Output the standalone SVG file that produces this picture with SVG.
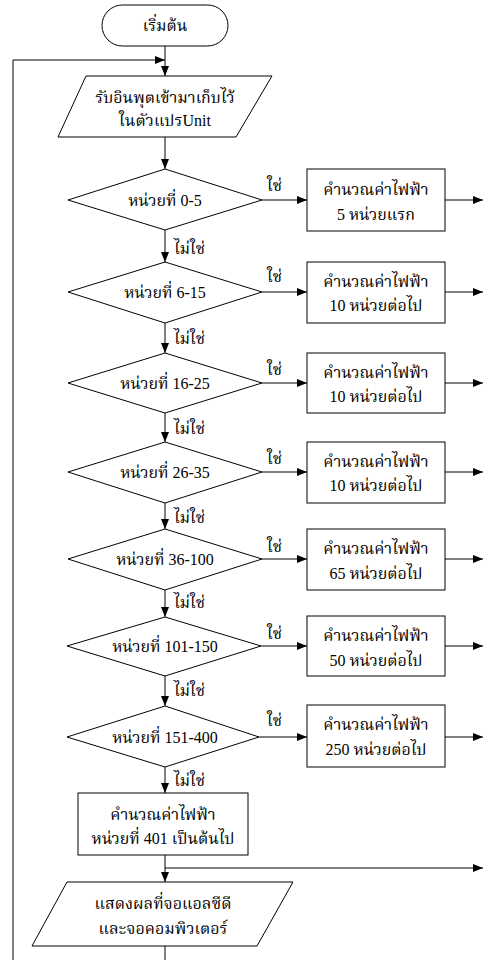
<svg xmlns="http://www.w3.org/2000/svg" width="483" height="960" viewBox="0 0 483 960">
<defs>
<marker id="ah" viewBox="0 0 10 8" refX="10" refY="4" markerWidth="10" markerHeight="8" markerUnits="userSpaceOnUse" orient="auto">
<path d="M0,0 L10,4 L0,8 Z" fill="#000"/>
</marker>
</defs>
<style>
.s{fill:#fff;stroke:#000;stroke-width:1}
.c{fill:none;stroke:#000;stroke-width:1}
.t{font-family:"Liberation Serif","Noto Serif Thai","Noto Sans Thai","DejaVu Sans",serif;font-size:16px;fill:#000;text-anchor:middle;dominant-baseline:central}
.l{font-family:"Liberation Serif","Noto Serif Thai","Noto Sans Thai","DejaVu Sans",serif;font-size:16px;fill:#000;dominant-baseline:central}
</style>
<rect width="483" height="960" fill="#fff"/>
<g id="connectors">
<line class="c" x1="165" y1="46" x2="165" y2="76" marker-end="url(#ah)"/>
<polyline class="c" points="165,960 165,946"/>
<polyline class="c" points="13,960 13,60 165,60" marker-end="url(#ah)"/>
<line class="c" x1="165" y1="137" x2="165" y2="169" marker-end="url(#ah)"/>
<line class="c" x1="165" y1="230" x2="165" y2="262" marker-end="url(#ah)"/>
<line class="c" x1="165" y1="323" x2="165" y2="353" marker-end="url(#ah)"/>
<line class="c" x1="165" y1="413" x2="165" y2="442" marker-end="url(#ah)"/>
<line class="c" x1="165" y1="503" x2="165" y2="529" marker-end="url(#ah)"/>
<line class="c" x1="165" y1="590" x2="165" y2="617" marker-end="url(#ah)"/>
<line class="c" x1="165" y1="676" x2="165" y2="706" marker-end="url(#ah)"/>
<line class="c" x1="165" y1="767" x2="165" y2="793" marker-end="url(#ah)"/>
<line class="c" x1="165" y1="855" x2="165" y2="882" marker-end="url(#ah)"/>
<line class="c" x1="165" y1="868" x2="483" y2="868" marker-end="url(#ah)"/>
<line class="c" x1="262" y1="200" x2="307" y2="200" marker-end="url(#ah)"/>
<line class="c" x1="262" y1="292" x2="307" y2="292" marker-end="url(#ah)"/>
<line class="c" x1="262" y1="383" x2="307" y2="383" marker-end="url(#ah)"/>
<line class="c" x1="262" y1="472" x2="307" y2="472" marker-end="url(#ah)"/>
<line class="c" x1="262" y1="559" x2="307" y2="559" marker-end="url(#ah)"/>
<line class="c" x1="261" y1="646" x2="307" y2="646" marker-end="url(#ah)"/>
<line class="c" x1="259" y1="737" x2="307" y2="737" marker-end="url(#ah)"/>
<line class="c" x1="445" y1="200" x2="483" y2="200" marker-end="url(#ah)"/>
<line class="c" x1="445" y1="292" x2="483" y2="292" marker-end="url(#ah)"/>
<line class="c" x1="445" y1="383" x2="483" y2="383" marker-end="url(#ah)"/>
<line class="c" x1="445" y1="472" x2="483" y2="472" marker-end="url(#ah)"/>
<line class="c" x1="445" y1="559" x2="483" y2="559" marker-end="url(#ah)"/>
<line class="c" x1="445" y1="646" x2="483" y2="646" marker-end="url(#ah)"/>
<line class="c" x1="445" y1="737" x2="483" y2="737" marker-end="url(#ah)"/>
<text class="l" x="267" y="185">ใช่</text>
<text class="l" x="267" y="276">ใช่</text>
<text class="l" x="267" y="369">ใช่</text>
<text class="l" x="267" y="458">ใช่</text>
<text class="l" x="267" y="546">ใช่</text>
<text class="l" x="267" y="633">ใช่</text>
<text class="l" x="267" y="720">ใช่</text>
<text class="l" x="174" y="248">ไม่ใช่</text>
<text class="l" x="174" y="338">ไม่ใช่</text>
<text class="l" x="174" y="428">ไม่ใช่</text>
<text class="l" x="174" y="517">ไม่ใช่</text>
<text class="l" x="174" y="602">ไม่ใช่</text>
<text class="l" x="174" y="690">ไม่ใช่</text>
<text class="l" x="174" y="780">ไม่ใช่</text>
</g>
<g id="start">
<rect class="s" x="102" y="5" width="126" height="41" rx="20.5"/>
<text class="t" x="165" y="25">เริ่มต้น</text>
</g>
<g id="input">
<polygon class="s" points="86,76 272,76 236,137 58,137"/>
<text class="t" x="165" y="97">รับอินพุตเข้ามาเก็บไว้</text>
<text class="t" x="165" y="120">ในตัวแปรUnit</text>
</g>
<g id="d1">
<polygon class="s" points="165,169 262,200 165,230 68,200"/>
<text class="t" x="165" y="200">หน่วยที่ 0-5</text>
</g>
<g id="d2">
<polygon class="s" points="165,262 262,292 165,323 68,292"/>
<text class="t" x="165" y="292">หน่วยที่ 6-15</text>
</g>
<g id="d3">
<polygon class="s" points="165,353 262,383 165,413 68,383"/>
<text class="t" x="165" y="383">หน่วยที่ 16-25</text>
</g>
<g id="d4">
<polygon class="s" points="165,442 262,472 165,503 68,472"/>
<text class="t" x="165" y="472">หน่วยที่ 26-35</text>
</g>
<g id="d5">
<polygon class="s" points="165,529 262,559 165,590 68,559"/>
<text class="t" x="165" y="559">หน่วยที่ 36-100</text>
</g>
<g id="d6">
<polygon class="s" points="165,617 261,646 165,676 67,646"/>
<text class="t" x="165" y="646">หน่วยที่ 101-150</text>
</g>
<g id="d7">
<polygon class="s" points="165,706 259,737 165,767 67,737"/>
<text class="t" x="165" y="737">หน่วยที่ 151-400</text>
</g>
<g id="b1">
<rect class="s" x="307" y="169" width="138" height="62"/>
<text class="t" x="376" y="189">คำนวณค่าไฟฟ้า</text>
<text class="t" x="376" y="214">5 หน่วยแรก</text>
</g>
<g id="b2">
<rect class="s" x="307" y="262" width="138" height="61"/>
<text class="t" x="376" y="281">คำนวณค่าไฟฟ้า</text>
<text class="t" x="376" y="305">10 หน่วยต่อไป</text>
</g>
<g id="b3">
<rect class="s" x="307" y="353" width="138" height="60"/>
<text class="t" x="376" y="372">คำนวณค่าไฟฟ้า</text>
<text class="t" x="376" y="396">10 หน่วยต่อไป</text>
</g>
<g id="b4">
<rect class="s" x="307" y="442" width="138" height="61"/>
<text class="t" x="376" y="461">คำนวณค่าไฟฟ้า</text>
<text class="t" x="376" y="485">10 หน่วยต่อไป</text>
</g>
<g id="b5">
<rect class="s" x="307" y="529" width="138" height="61"/>
<text class="t" x="376" y="548">คำนวณค่าไฟฟ้า</text>
<text class="t" x="376" y="573">65 หน่วยต่อไป</text>
</g>
<g id="b6">
<rect class="s" x="307" y="616" width="138" height="60"/>
<text class="t" x="376" y="635">คำนวณค่าไฟฟ้า</text>
<text class="t" x="376" y="660">50 หน่วยต่อไป</text>
</g>
<g id="b7">
<rect class="s" x="307" y="705" width="138" height="62"/>
<text class="t" x="376" y="724">คำนวณค่าไฟฟ้า</text>
<text class="t" x="376" y="749">250 หน่วยต่อไป</text>
</g>
<g id="b8">
<rect class="s" x="78" y="793" width="170" height="62"/>
<text class="t" x="163" y="814">คำนวณค่าไฟฟ้า</text>
<text class="t" x="163" y="838">หน่วยที่ 401 เป็นต้นไป</text>
</g>
<g id="output">
<polygon class="s" points="67,882 293,882 257,946 32,946"/>
<text class="t" x="163" y="903">แสดงผลที่จอแอลซีดี</text>
<text class="t" x="163" y="928">และจอคอมพิวเตอร์</text>
</g>
</svg>
